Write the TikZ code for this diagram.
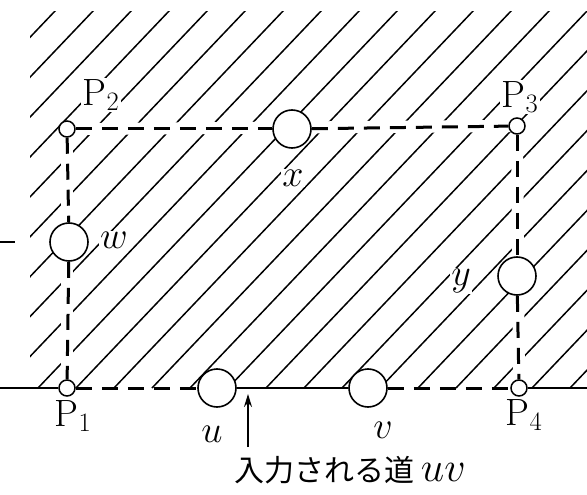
\RequirePackage{fix-cm}
\documentclass[tikz,border=0pt]{standalone}
\usepackage{fontspec}
\newfontfamily\cjk{Noto Sans CJK JP}
\usetikzlibrary{arrows.meta}
\pgfdeclarelayer{bg}
\pgfsetlayers{bg,main}
\begin{document}
\begin{tikzpicture}[x=1pt,y=-1pt,
  vtx/.style={circle,draw,line width=1.6pt,fill=white,minimum size=38pt,inner sep=0pt},
  cor/.style={circle,draw,line width=1.5pt,fill=white,minimum size=16pt,inner sep=0pt},
  lbl/.style={font=\fontsize{38}{40}\selectfont,fill=white,inner sep=1.5pt},
  vlbl/.style={font=\fontsize{38}{40}\selectfont,fill=white,inner sep=1pt},
  dsh/.style={line width=3pt,dash pattern=on 16pt off 10pt},
  base/.style={line width=2.4pt},
  gap/.style={white,line width=12pt},
  hatch/.style={line width=1.5pt}]
\useasboundingbox (0,0) rectangle (587,495);
% vertices
\node[cor] (p1) at (67,388) {};
\node[cor] (p2) at (67,129) {};
\node[cor] (p3) at (517,126) {};
\node[cor] (p4) at (519,388) {};
\node[vtx] (x) at (292,129) {};
\node[vtx] (w) at (69,242) {};
\node[vtx] (y) at (517,276) {};
\node[vtx] (u) at (217,388) {};
\node[vtx] (v) at (368,388) {};
\coordinate (L) at (0,388);
\coordinate (R) at (587,388);
\coordinate (d1) at (0,242);
\coordinate (d2) at (15,242);
% hatching
\begin{pgfonlayer}{bg}
  \begin{scope}
    \clip (30,12) rectangle (587,388);
    \foreach \i in {-12,...,16} \draw[hatch] (\i*38,388) -- ++(400,-420);
  \end{scope}
  \draw[gap] (p2.center) -- (p3.center);
  \draw[gap] (p2.center) -- (p1.center);
  \draw[gap] (p3.center) -- (p4.center);
\end{pgfonlayer}
% rectangle
\draw[dsh] (p2) -- (x);
\draw[dsh] (x) -- (p3);
\draw[dsh] (p2) -- (w);
\draw[dsh] (w) -- (p1);
\draw[dsh] (p3) -- (y);
\draw[dsh] (y) -- (p4);
\draw[dsh] (p1) -- (u);
\draw[dsh] (v) -- (p4);
\draw[base] (u) -- (v);
\draw[base] (L) -- (p1);
\draw[base] (p4) -- (R);
\draw[line width=1.6pt] (d1) -- (d2);
% labels
\node[lbl] (lp2) at (101,95) {P$_2$};
\node[lbl] (lp3) at (520,97) {P$_3$};
\node[lbl] (lp1) at (73,416) {P$_1$};
\node[lbl] (lp4) at (524,415) {P$_4$};
\node[vlbl] (lx) at (293,178) {$x$};
\node[vlbl] (lw) at (114,240) {$w$};
\node[vlbl] (ly) at (461,281) {$y$};
\node[vlbl] (lu) at (212,434) {$u$};
\node[vlbl] (lv) at (383,430) {$v$};
% arrow and caption
\coordinate (atail) at (248,447);
\coordinate (ahead) at (248,394);
\draw[-{Stealth[length=13pt,width=8pt]},line width=1.8pt] (atail) -- (ahead);
\node[font=\cjk\fontsize{30}{32}\selectfont] (cap) at (350,470) {入力される道 {\fontsize{42}{44}\selectfont$uv$}};
\end{tikzpicture}
\end{document}
